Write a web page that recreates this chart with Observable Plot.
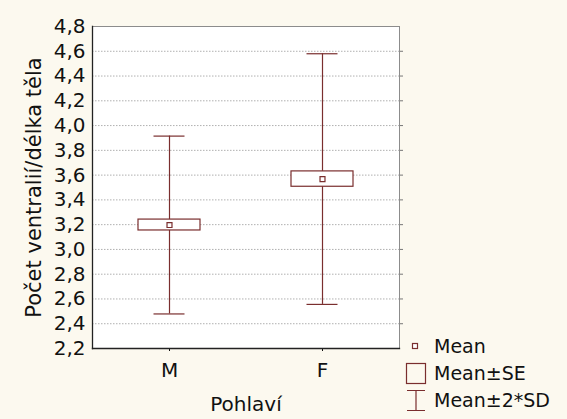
<!DOCTYPE html>
<html>
<head>
<meta charset="utf-8">
<script src="https://cdn.jsdelivr.net/npm/d3@7"></script>
<script src="https://cdn.jsdelivr.net/npm/@observablehq/plot@0.6"></script>
<style>
  html, body { margin: 0; padding: 0; background: #fcf9ef; }
  #wrap { position: relative; width: 567px; height: 419px; overflow: hidden; }
  #legend { position: absolute; left: 403px; top: 332px; font-family: "DejaVu Sans", sans-serif; font-size: 19px; color: #111; }
  #legend .row { display: flex; align-items: center; height: 27px; }
  #legend svg { width: 24px; height: 26px; margin-right: 7px; flex: none; }
</style>
</head>
<body>
<div id="wrap"></div>
<script>
// Ventral scale count per body length, by sex
const categories = ["M", "F"];
const means = [3.197, 3.568];
const stdErrors = [0.044, 0.062];
const stdDevs = [0.359, 0.506];
const yTicks = [2.2, 2.4, 2.6, 2.8, 3.0, 3.2, 3.4, 3.6, 3.8, 4.0, 4.2, 4.4, 4.6, 4.8];

const rows = categories.map((sex, i) => ({
  sex,
  mean: means[i],
  seLo: means[i] - stdErrors[i],
  seHi: means[i] + stdErrors[i],
  sdLo: means[i] - 2 * stdDevs[i],
  sdHi: means[i] + 2 * stdDevs[i]
}));

const ink = "#7a2e2e";
const commaFmt = d => d.toFixed(1).replace(".", ",");
const innerTicks = yTicks.slice(1, -1);

const chart = Plot.plot({
  width: 567,
  height: 419,
  marginLeft: 92,
  marginRight: 168,
  marginTop: 26,
  marginBottom: 71,
  style: { background: "transparent", fontFamily: "DejaVu Sans, sans-serif", fontSize: "20px", color: "#111" },
  x: { domain: categories, paddingInner: 0.596, paddingOuter: 0.298 },
  y: { domain: [2.2, 4.8] },
  marks: [
    Plot.frame({ fill: "white", stroke: "#8c8c8c" }),
    Plot.gridY(innerTicks, { stroke: "#b0b0b0", strokeOpacity: 1, strokeDasharray: "1.5,1.5" }),
    Plot.ruleX(rows, { x: "sex", y1: "sdLo", y2: "sdHi", stroke: ink, strokeWidth: 1.2 }),
    Plot.tickY(rows, { x: "sex", y: "sdHi", stroke: ink, strokeWidth: 1.2, insetLeft: 15.5, insetRight: 15.5 }),
    Plot.tickY(rows, { x: "sex", y: "sdLo", stroke: ink, strokeWidth: 1.2, insetLeft: 15.5, insetRight: 15.5 }),
    Plot.barY(rows, { x: "sex", y1: "seLo", y2: "seHi", fill: "white", stroke: ink, strokeWidth: 1.2 }),
    Plot.dot(rows, { x: "sex", y: "mean", symbol: "square", r: 2.8, fill: "white", stroke: ink, strokeWidth: 1.2 }),
    Plot.axisY({ ticks: yTicks, tickFormat: commaFmt, tickSize: 0, tickPadding: 7, fontSize: 20 }),
    Plot.axisY({ ticks: [], tickSize: 0, fontSize: 21,
      label: "Počet ventralií/délka těla", labelAnchor: "center", labelArrow: "none", labelOffset: 66 }),
    Plot.axisY({ anchor: "right", ticks: innerTicks, tickFormat: () => "", tickSize: 3, stroke: "#777", label: null }),
    Plot.axisX({ tickSize: 3, tickPadding: 11, fontSize: 20,
      label: "Pohlaví", labelAnchor: "center", labelArrow: "none", labelOffset: 62 }),
    Plot.axisX({ anchor: "top", tickSize: 0, tickFormat: () => "", label: null }),
    Plot.frame({ anchor: "left", stroke: "#222", strokeWidth: 1.3 }),
    Plot.frame({ anchor: "bottom", stroke: "#222", strokeWidth: 1.3 })
  ]
});

const wrap = document.getElementById("wrap");
wrap.appendChild(chart);

// Legend: mean marker, SE box, ±2·SD whisker
const legend = document.createElement("div");
legend.id = "legend";
legend.innerHTML = `
  <div class="row"><svg viewBox="0 0 24 26"><rect x="9.5" y="10.5" width="5" height="5" fill="white" stroke="${ink}" stroke-width="1.2"/></svg><span>Mean</span></div>
  <div class="row"><svg viewBox="0 0 24 26"><rect x="3.5" y="3.5" width="19" height="20" fill="none" stroke="${ink}" stroke-width="1.2"/></svg><span>Mean±SE</span></div>
  <div class="row"><svg viewBox="0 0 24 26"><path d="M4,3.5H22M13,3.5V23.5M4,23.5H22" fill="none" stroke="${ink}" stroke-width="1.2"/></svg><span>Mean±2*SD</span></div>`;
wrap.appendChild(legend);
</script>
</body>
</html>
